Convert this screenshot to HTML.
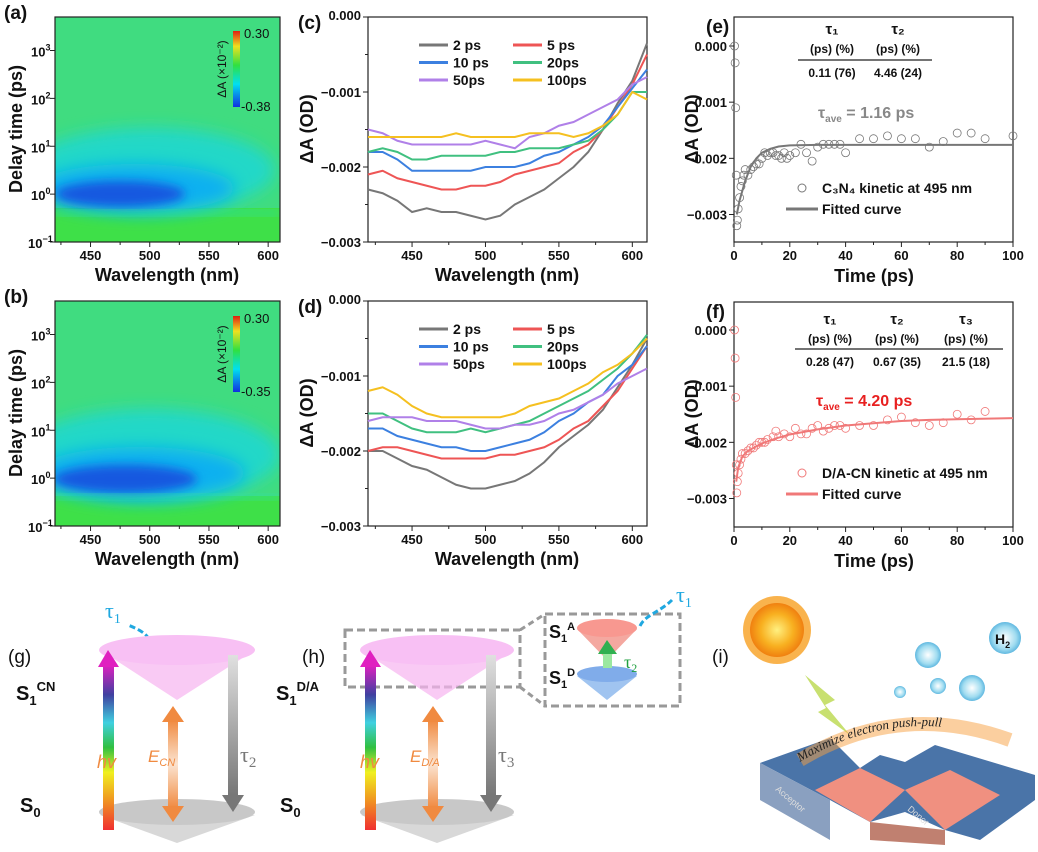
<!DOCTYPE html>
<html><head><meta charset="utf-8">
<style>
html,body{margin:0;padding:0;background:#fff;}
svg{display:block;font-family:"Liberation Sans",sans-serif;}
.tk{font-size:13px;font-weight:bold;fill:#111;}
.tt{font-size:18px;font-weight:bold;fill:#111;}
.pl{font-size:19px;font-weight:bold;fill:#111;}
.lg{font-size:14px;font-weight:bold;fill:#111;}
</style></head>
<body>
<svg id="fig" width="1038" height="852" viewBox="0 0 1038 852" xmlns="http://www.w3.org/2000/svg">
<defs>
<filter id="blur8" x="-50%" y="-50%" width="200%" height="200%"><feGaussianBlur stdDeviation="8"/></filter>
<filter id="blur5" x="-50%" y="-50%" width="200%" height="200%"><feGaussianBlur stdDeviation="5"/></filter>
<clipPath id="clipA"><rect x="55" y="17" width="225" height="225"/></clipPath>
<clipPath id="clipB"><rect x="55" y="301" width="225" height="225"/></clipPath>
<linearGradient id="cbar" x1="0" y1="1" x2="0" y2="0">
<stop offset="0" stop-color="#1030e0"/><stop offset="0.3" stop-color="#00e0f0"/><stop offset="0.55" stop-color="#30e040"/><stop offset="0.8" stop-color="#f0e020"/><stop offset="1" stop-color="#e02010"/></linearGradient>
<linearGradient id="rainbow" x1="0" y1="1" x2="0" y2="0">
<stop offset="0" stop-color="#f03030"/><stop offset="0.2" stop-color="#f0a020"/><stop offset="0.35" stop-color="#f0f020"/><stop offset="0.5" stop-color="#30c040"/><stop offset="0.65" stop-color="#40d0e0"/><stop offset="0.82" stop-color="#4040a0"/><stop offset="1" stop-color="#e020c0"/></linearGradient>
<linearGradient id="orgArr" x1="0" y1="0" x2="0" y2="1"><stop offset="0" stop-color="#f08a40"/><stop offset="0.5" stop-color="#fbe3d0"/><stop offset="1" stop-color="#f08a40"/></linearGradient>
<linearGradient id="grayArr" x1="0" y1="0" x2="0" y2="1"><stop offset="0" stop-color="#e0e0e0"/><stop offset="1" stop-color="#777"/></linearGradient>
<radialGradient id="sunG"><stop offset="0" stop-color="#fff080"/><stop offset="0.6" stop-color="#f8b020"/><stop offset="1" stop-color="#f08010"/></radialGradient>
<radialGradient id="bub"><stop offset="0" stop-color="#ffffff"/><stop offset="0.7" stop-color="#a0dcf0"/><stop offset="1" stop-color="#60b8e0"/></radialGradient>
</defs>

<!-- Heatmap (a) -->
<g clip-path="url(#clipA)">
<rect x="55" y="17" width="225" height="225" fill="#40dc80"/>
<rect x="55" y="208" width="225" height="34" fill="#3ee048"/>
<ellipse cx="150" cy="170" rx="125" ry="42" fill="#20d8c8" filter="url(#blur8)"/>
<ellipse cx="135" cy="188" rx="100" ry="24" fill="#10b0f0" filter="url(#blur8)"/>
<ellipse cx="120" cy="194" rx="65" ry="13" fill="#1858e0" filter="url(#blur5)"/>
<rect x="55" y="211" width="225" height="4" fill="#30e0a0" filter="url(#blur5)"/>
</g>
<rect x="55" y="17" width="225" height="225" fill="none" stroke="#222" stroke-width="1.2"/>
<rect x="233" y="31" width="7" height="76" fill="url(#cbar)"/>
<text x="244" y="38" font-size="13" fill="#111">0.30</text>
<text x="241" y="111" font-size="13" fill="#111">-0.38</text>
<text transform="translate(226,69) rotate(-90)" text-anchor="middle" font-size="12" fill="#111">ΔA (×10⁻²)</text>

<!-- Heatmap (b) -->
<g clip-path="url(#clipB)">
<rect x="55" y="301" width="225" height="225" fill="#40dc80"/>
<rect x="55" y="496" width="225" height="30" fill="#3ee048"/>
<ellipse cx="150" cy="455" rx="130" ry="46" fill="#20d8c8" filter="url(#blur8)"/>
<ellipse cx="140" cy="473" rx="105" ry="26" fill="#10b0f0" filter="url(#blur8)"/>
<ellipse cx="125" cy="479" rx="72" ry="14" fill="#1858e0" filter="url(#blur5)"/>
<rect x="55" y="495" width="225" height="4" fill="#30e0a0" filter="url(#blur5)"/>
</g>
<rect x="55" y="301" width="225" height="225" fill="none" stroke="#222" stroke-width="1.2"/>
<rect x="233" y="316" width="7" height="76" fill="url(#cbar)"/>
<text x="244" y="323" font-size="13" fill="#111">0.30</text>
<text x="241" y="396" font-size="13" fill="#111">-0.35</text>
<text transform="translate(226,354) rotate(-90)" text-anchor="middle" font-size="12" fill="#111">ΔA (×10⁻²)</text>

<g id="charts"></g>

<!-- Tables -->
<g class="lg">
<text x="832" y="34" text-anchor="middle" font-size="15">τ₁</text>
<text x="898" y="34" text-anchor="middle" font-size="15">τ₂</text>
<text x="832" y="53" text-anchor="middle" font-size="12">(ps) (%)</text>
<text x="898" y="53" text-anchor="middle" font-size="12">(ps) (%)</text>
<line x1="798" y1="60" x2="932" y2="60" stroke="#222" stroke-width="1.3"/>
<text x="832" y="77" text-anchor="middle" font-size="12">0.11 (76)</text>
<text x="898" y="77" text-anchor="middle" font-size="12">4.46 (24)</text>
<text x="818" y="118" font-size="16" style="fill:#888">τ<tspan font-size="10" dy="4">ave</tspan><tspan dy="-4"> = 1.16 ps</tspan></text>
</g>
<g class="lg">
<text x="830" y="324" text-anchor="middle" font-size="15">τ₁</text>
<text x="897" y="324" text-anchor="middle" font-size="15">τ₂</text>
<text x="966" y="324" text-anchor="middle" font-size="15">τ₃</text>
<text x="830" y="343" text-anchor="middle" font-size="12">(ps) (%)</text>
<text x="897" y="343" text-anchor="middle" font-size="12">(ps) (%)</text>
<text x="966" y="343" text-anchor="middle" font-size="12">(ps) (%)</text>
<line x1="795" y1="349" x2="1003" y2="349" stroke="#222" stroke-width="1.3"/>
<text x="830" y="366" text-anchor="middle" font-size="12">0.28 (47)</text>
<text x="897" y="366" text-anchor="middle" font-size="12">0.67 (35)</text>
<text x="966" y="366" text-anchor="middle" font-size="12">21.5 (18)</text>
<text x="816" y="406" font-size="16" style="fill:#e82020">τ<tspan font-size="10" dy="4">ave</tspan><tspan dy="-4"> = 4.20 ps</tspan></text>
</g>

<!-- (g) diagram -->
<g>
<text x="8" y="663" font-size="19" fill="#111">(g)</text>
<text x="105" y="618" font-size="22" fill="#20a8e0" font-family="Liberation Serif,serif">τ<tspan font-size="14" dy="5">1</tspan></text>
<path d="M150,648 C152,635 140,630 128,625" fill="none" stroke="#20a8e0" stroke-width="3" stroke-dasharray="6,3"/>
<path d="M100,650 L177,700 L255,650 Z" fill="#f6b4f0" opacity="0.7"/>
<ellipse cx="177" cy="650" rx="78" ry="15" fill="#f8c0f4"/>
<path d="M100,815 L177,843 L255,815 Z" fill="#d8d8d8"/>
<ellipse cx="177" cy="812" rx="78" ry="13" fill="#c8c8c8"/>
<rect x="103" y="665" width="11" height="165" fill="url(#rainbow)"/>
<polygon points="98,667 108,650 119,667" fill="#e020c0"/>
<rect x="168" y="720" width="10" height="88" fill="url(#orgArr)"/>
<polygon points="162,722 173,706 184,722" fill="#f08a40"/>
<polygon points="162,806 173,822 184,806" fill="#f08a40"/>
<rect x="228" y="655" width="10" height="140" fill="url(#grayArr)"/>
<polygon points="222,795 233,812 244,795" fill="#777"/>
<text x="16" y="700" font-size="20" font-weight="bold" fill="#111">S<tspan font-size="13" dy="5">1</tspan><tspan font-size="13" dy="-14">CN</tspan></text>
<text x="20" y="812" font-size="20" font-weight="bold" fill="#111">S<tspan font-size="13" dy="5">0</tspan></text>
<text x="97" y="768" font-size="18" font-style="italic" fill="#f08a40">hv</text>
<text x="148" y="762" font-size="17" font-style="italic" fill="#f08a40">E<tspan font-size="11" dy="4">CN</tspan></text>
<text x="240" y="762" font-size="22" fill="#777" font-family="Liberation Serif,serif">τ<tspan font-size="15" dy="5">2</tspan></text>
</g>

<!-- (h) diagram -->
<g>
<text x="302" y="663" font-size="19" fill="#111">(h)</text>
<rect x="345" y="630" width="175" height="57" fill="none" stroke="#999" stroke-width="3" stroke-dasharray="8,4"/>
<rect x="545" y="614" width="135" height="92" fill="none" stroke="#999" stroke-width="3" stroke-dasharray="8,4"/>
<line x1="520" y1="630" x2="545" y2="614" stroke="#999" stroke-width="3" stroke-dasharray="6,4"/>
<line x1="520" y1="687" x2="545" y2="706" stroke="#999" stroke-width="3" stroke-dasharray="6,4"/>
<path d="M361,650 L437,700 L514,650 Z" fill="#f6b4f0" opacity="0.7"/>
<ellipse cx="437" cy="650" rx="77" ry="15" fill="#f8c0f4"/>
<path d="M361,815 L437,843 L514,815 Z" fill="#d8d8d8"/>
<ellipse cx="437" cy="812" rx="77" ry="13" fill="#c8c8c8"/>
<rect x="365" y="665" width="11" height="165" fill="url(#rainbow)"/>
<polygon points="360,667 370,650 381,667" fill="#e020c0"/>
<rect x="428" y="720" width="10" height="88" fill="url(#orgArr)"/>
<polygon points="422,722 433,706 444,722" fill="#f08a40"/>
<polygon points="422,806 433,822 444,806" fill="#f08a40"/>
<rect x="486" y="655" width="10" height="140" fill="url(#grayArr)"/>
<polygon points="480,795 491,812 502,795" fill="#777"/>
<text x="276" y="700" font-size="20" font-weight="bold" fill="#111">S<tspan font-size="13" dy="5">1</tspan><tspan font-size="13" dy="-14">D/A</tspan></text>
<text x="280" y="812" font-size="20" font-weight="bold" fill="#111">S<tspan font-size="13" dy="5">0</tspan></text>
<text x="360" y="768" font-size="18" font-style="italic" fill="#f08a40">hv</text>
<text x="410" y="762" font-size="17" font-style="italic" fill="#f08a40">E<tspan font-size="11" dy="4">D/A</tspan></text>
<text x="498" y="762" font-size="22" fill="#777" font-family="Liberation Serif,serif">τ<tspan font-size="15" dy="5">3</tspan></text>
<path d="M577,629 L607,660 L637,629 Z" fill="#f4a8a0"/>
<ellipse cx="607" cy="628" rx="30" ry="9" fill="#f89890"/>
<path d="M577,676 L607,700 L637,676 Z" fill="#a0c4f0"/>
<ellipse cx="607" cy="674" rx="30" ry="8" fill="#80acea"/>
<rect x="603" y="652" width="9" height="16" fill="#9be8a0"/>
<polygon points="598,654 607,640 617,654" fill="#30b050"/>
<text x="624" y="668" font-size="18" fill="#20a040" font-family="Liberation Serif,serif">τ<tspan font-size="12" dy="4">2</tspan></text>
<text x="549" y="638" font-size="18" font-weight="bold" fill="#111">S<tspan font-size="11" dy="4">1</tspan><tspan font-size="11" dy="-12">A</tspan></text>
<text x="549" y="684" font-size="18" font-weight="bold" fill="#111">S<tspan font-size="11" dy="4">1</tspan><tspan font-size="11" dy="-12">D</tspan></text>
<path d="M640,626 C645,615 660,612 672,600" fill="none" stroke="#20a8e0" stroke-width="3" stroke-dasharray="6,3"/>
<text x="676" y="602" font-size="22" fill="#20a8e0" font-family="Liberation Serif,serif">τ<tspan font-size="14" dy="5">1</tspan></text>
</g>

<!-- (i) illustration -->
<g>
<text x="712" y="663" font-size="19" fill="#111">(i)</text>
<circle cx="777" cy="630" r="34" fill="#f8a020" opacity="0.8"/>
<circle cx="777" cy="630" r="27" fill="url(#sunG)"/>
<polygon points="805,675 835,700 825,705 850,735 818,712 826,708" fill="#c8e070"/>
<circle cx="1005" cy="638" r="16" fill="url(#bub)"/>
<text x="995" y="644" font-size="14" font-weight="bold" fill="#111">H<tspan font-size="9" dy="4">2</tspan></text>
<circle cx="928" cy="655" r="13" fill="url(#bub)"/>
<circle cx="972" cy="688" r="13" fill="url(#bub)"/>
<circle cx="938" cy="686" r="8" fill="url(#bub)"/>
<circle cx="900" cy="692" r="6" fill="url(#bub)"/>
<polygon points="760,763 830,738 860,768 880,755 905,762 935,745 1035,775 1035,800 980,840 945,830 905,812 870,822 830,800" fill="#4a74a8"/>
<polygon points="815,790 860,768 905,790 870,822" fill="#f09080"/>
<polygon points="905,790 950,770 1000,795 945,830" fill="#f09080"/>
<polygon points="760,763 830,800 830,840 760,800" fill="#8aa0c0"/>
<polygon points="870,822 945,830 945,845 870,840" fill="#c08070"/>
<path d="M800,760 Q900,700 1010,740" fill="none" stroke="#f8a040" stroke-width="14" opacity="0.5"/>
<path id="arc" d="M800,762 Q900,702 1010,742" fill="none"/>
<text font-size="13" font-style="italic" fill="#222" font-family="Liberation Serif,serif"><textPath href="#arc">Maximize electron push-pull</textPath></text>
<text transform="translate(775,790) rotate(40)" font-size="9" fill="#ddd">Acceptor</text>
<text transform="translate(907,810) rotate(40)" font-size="9" fill="#ddd">Donor</text>
</g>
</svg>

<script>
// ----- data -----
const wl = [420,430,440,450,460,470,480,490,500,510,520,530,540,550,560,570,580,590,600,610];
const seriesNames = ['2 ps','5 ps','10 ps','20ps','50ps','100ps'];
const seriesColors = ['#777777','#ee5555','#3c80e0','#40c080','#b080e8','#f5c020'];
const c2 = [-2.3,-2.35,-2.45,-2.6,-2.55,-2.6,-2.6,-2.65,-2.7,-2.65,-2.5,-2.4,-2.3,-2.15,-2.0,-1.8,-1.5,-1.15,-0.85,-0.35];
const c5 = [-2.1,-2.05,-2.15,-2.2,-2.25,-2.3,-2.3,-2.25,-2.25,-2.2,-2.1,-2.05,-2.0,-1.95,-1.8,-1.7,-1.5,-1.2,-0.9,-0.5];
const c10 = [-1.8,-1.8,-1.9,-2.05,-2.05,-2.05,-2.05,-2.05,-2.0,-2.0,-2.0,-1.95,-1.85,-1.8,-1.7,-1.6,-1.45,-1.2,-0.95,-0.7];
const c20 = [-1.8,-1.75,-1.8,-1.9,-1.9,-1.85,-1.85,-1.85,-1.85,-1.8,-1.8,-1.75,-1.75,-1.75,-1.7,-1.65,-1.5,-1.3,-1.0,-1.0];
const c50 = [-1.5,-1.55,-1.65,-1.7,-1.7,-1.7,-1.7,-1.7,-1.65,-1.7,-1.75,-1.6,-1.55,-1.45,-1.4,-1.3,-1.2,-1.1,-0.9,-0.8];
const c100 = [-1.6,-1.6,-1.6,-1.6,-1.6,-1.6,-1.55,-1.6,-1.6,-1.6,-1.6,-1.55,-1.55,-1.55,-1.6,-1.55,-1.45,-1.3,-1.0,-1.1];
const d2 = [-2.0,-2.0,-2.1,-2.2,-2.25,-2.35,-2.45,-2.5,-2.5,-2.45,-2.4,-2.3,-2.15,-1.95,-1.8,-1.65,-1.45,-1.15,-0.85,-0.5];
const d5 = [-2.0,-1.95,-1.95,-2.0,-2.05,-2.1,-2.1,-2.1,-2.1,-2.05,-2.05,-2.0,-1.95,-1.85,-1.7,-1.6,-1.4,-1.2,-0.9,-0.6];
const d10 = [-1.7,-1.7,-1.8,-1.85,-1.9,-1.95,-1.95,-2.0,-2.0,-1.95,-1.9,-1.85,-1.75,-1.6,-1.5,-1.35,-1.25,-1.0,-0.85,-0.6];
const d20 = [-1.5,-1.5,-1.6,-1.7,-1.75,-1.75,-1.75,-1.7,-1.75,-1.7,-1.65,-1.6,-1.5,-1.4,-1.3,-1.2,-1.05,-0.9,-0.7,-0.45];
const d50 = [-1.6,-1.55,-1.55,-1.55,-1.6,-1.6,-1.6,-1.65,-1.7,-1.7,-1.65,-1.65,-1.6,-1.5,-1.45,-1.35,-1.25,-1.1,-1.0,-0.9];
const d100 = [-1.2,-1.15,-1.25,-1.4,-1.5,-1.55,-1.55,-1.55,-1.55,-1.55,-1.5,-1.4,-1.35,-1.3,-1.2,-1.1,-0.95,-0.85,-0.7,-0.5];
const eT = [0.2,0.4,0.6,0.8,1,1.2,1.5,2,2.5,3,3.5,4,5,6,7,8,9,10,11,12,13,14,15,16,17,18,19,20,22,24,26,28,30,32,34,36,38,40,45,50,55,60,65,70,75,80,85,90,100];
const eV = [0.0,-0.3,-1.1,-2.3,-3.2,-3.1,-2.9,-2.7,-2.5,-2.4,-2.3,-2.2,-2.3,-2.2,-2.15,-2.1,-2.1,-2.0,-1.9,-1.95,-1.9,-1.9,-1.95,-1.95,-2.0,-1.9,-2.0,-1.95,-1.9,-1.75,-1.9,-2.05,-1.8,-1.75,-1.75,-1.75,-1.75,-1.9,-1.65,-1.65,-1.6,-1.65,-1.65,-1.8,-1.7,-1.55,-1.55,-1.65,-1.6];
const eFitT = [1,2,4,6,8,10,13,16,20,30,100];
const eFitV = [-3.0,-2.75,-2.4,-2.15,-2.0,-1.9,-1.83,-1.79,-1.77,-1.76,-1.76];
const fT = [0.2,0.4,0.6,0.8,1,1.2,1.5,2,2.5,3,4,5,6,7,8,9,10,11,12,14,15,16,18,20,22,24,26,28,30,32,34,36,38,40,45,50,55,60,65,70,75,80,85,90];
const fV = [0,-0.5,-1.2,-2.4,-2.9,-2.7,-2.55,-2.4,-2.3,-2.2,-2.2,-2.15,-2.1,-2.1,-2.05,-2.0,-2.0,-2.0,-1.95,-1.9,-1.8,-1.9,-1.85,-1.9,-1.75,-1.85,-1.85,-1.75,-1.7,-1.8,-1.75,-1.7,-1.7,-1.75,-1.7,-1.7,-1.6,-1.55,-1.65,-1.7,-1.65,-1.5,-1.6,-1.45];
const fFitT = [0.8,1.5,3,5,10,15,20,30,40,50,60,70,80,100];
const fFitV = [-2.7,-2.45,-2.25,-2.15,-2.02,-1.93,-1.86,-1.77,-1.7,-1.66,-1.62,-1.6,-1.59,-1.57];
const wlTicks = [450,500,550,600];
const odTicks = [0,-1,-2,-3];
const odTickLabels = ['0.000','\u22120.001','\u22120.002','\u22120.003'];
const tTicks = [0,20,40,60,80,100];
const logTicks = [-1,0,1,2,3];

const NS='http://www.w3.org/2000/svg';
const root=document.getElementById('charts');
function mk(tag,attrs,parent){const e=document.createElementNS(NS,tag);for(const k in attrs)e.setAttribute(k,attrs[k]);(parent||root).appendChild(e);return e;}
function txt(x,y,s,cls,anchor,parent){const t=mk('text',{x:x,y:y,class:cls,'text-anchor':anchor||'start'},parent);t.textContent=s;return t;}

function frame(x0,y0,w,h,name){
  const r=mk('rect',{x:x0,y:y0,width:w,height:h,fill:'none',stroke:'#222','stroke-width':1.2});
  
  
}
function linAxis(d0,d1,p0,p1){return v=>p0+(v-d0)/(d1-d0)*(p1-p0);}

function heatAxes(top,label){
  const x=linAxis(420,610,55,280), y=linAxis(-1,3.7,top+225,top);
  wlTicks.forEach(v=>{mk('line',{x1:x(v),y1:top+225,x2:x(v),y2:top+230,stroke:'#222'});txt(x(v),top+243,String(v),'tk','middle');});
  [425,475,525,575].forEach(v=>mk('line',{x1:x(v),y1:top+225,x2:x(v),y2:top+228,stroke:'#222'}));
  logTicks.forEach(v=>{mk('line',{x1:50,y1:y(v),x2:55,y2:y(v),stroke:'#222'});
    const t=mk('text',{x:v<0?28:31,y:y(v)+6,class:'tk'});t.textContent='10';
    const s=mk('tspan',{dy:-6,'font-size':9},t);s.textContent=v<0?'\u22121':String(v);});
  const xl=txt(167,top+264,'Wavelength (nm)','tt','middle');
  const yl=mk('text',{transform:`translate(22,${top+112}) rotate(-90)`,class:'tt','text-anchor':'middle'});yl.textContent='Delay time (ps)';
  
  txt(4,top+2,label,'pl');
}
heatAxes(17,'(a)');heatAxes(301,'(b)');

function specPanel(top,label,data,legY){
  const x=linAxis(420,610,368,647), y=linAxis(0,-3,top,top+225);
  frame(368,top,279,225,'spectra-frame-'+label);
  wlTicks.forEach(v=>{mk('line',{x1:x(v),y1:top+225,x2:x(v),y2:top+230,stroke:'#222'});txt(x(v),top+243,String(v),'tk','middle');});
  [425,475,525,575].forEach(v=>mk('line',{x1:x(v),y1:top+225,x2:x(v),y2:top+228,stroke:'#222'}));
  odTicks.forEach((v,i)=>{mk('line',{x1:363,y1:y(v),x2:368,y2:y(v),stroke:'#222'});txt(361,y(v)+(v===0?3:5),odTickLabels[i],'tk','end');});
  [-0.5,-1.5,-2.5].forEach(v=>mk('line',{x1:365,y1:y(v),x2:368,y2:y(v),stroke:'#222'}));
  txt(507,top+264,'Wavelength (nm)','tt','middle');
  const yl=mk('text',{transform:`translate(313,${top+112}) rotate(-90)`,class:'tt','text-anchor':'middle'});yl.textContent='\u0394A (OD)';
  
  txt(298,top+12,label,'pl');
  data.forEach((arr,i)=>{
    const p=mk('polyline',{points:arr.map((v,j)=>x(wl[j])+','+y(v)).join(' '),fill:'none',stroke:seriesColors[i],'stroke-width':2});
    
    
    const col=i%2, row=Math.floor(i/2);
    const lx=col?513:419, ly=legY+row*17.5;
    const l=mk('line',{x1:lx,y1:ly,x2:lx+29,y2:ly,stroke:seriesColors[i],'stroke-width':3});
    
    
    txt(lx+34,ly+5,seriesNames[i],'lg');
  });
}
specPanel(17,'(c)',[c2,c5,c10,c20,c50,c100],45);
specPanel(301,'(d)',[d2,d5,d10,d20,d50,d100],329);

function kinPanel(top,label,zeroY,pT,pV,fT2,fV2,color,legText){
  const x=linAxis(0,100,734,1013), y=linAxis(0,-3,zeroY,zeroY+168.5);
  frame(734,top,279,225,'kinetics-frame-'+label);
  tTicks.forEach(v=>{mk('line',{x1:x(v),y1:top+225,x2:x(v),y2:top+230,stroke:'#222'});txt(x(v),top+243,String(v),'tk','middle');});
  [10,30,50,70,90].forEach(v=>mk('line',{x1:x(v),y1:top+225,x2:x(v),y2:top+228,stroke:'#222'}));
  odTicks.forEach((v,i)=>{mk('line',{x1:729,y1:y(v),x2:734,y2:y(v),stroke:'#222'});txt(727,y(v)+5,odTickLabels[i],'tk','end');});
  txt(874,top+265,'Time (ps)','tt','middle');
  const yl=mk('text',{transform:`translate(698,${top+112}) rotate(-90)`,class:'tt','text-anchor':'middle'});yl.textContent='\u0394A (OD)';
  
  txt(706,top+16,label,'pl');
  pT.forEach((t,i)=>{const c=mk('circle',{cx:x(t),cy:y(pV[i]),r:4,fill:'none',stroke:color,'stroke-width':0.8});
    });
  const fl=mk('polyline',{points:fT2.map((t,j)=>x(t)+','+y(fV2[j])).join(' '),fill:'none',stroke:color,'stroke-width':2});
  
  const ly=top+171;
  mk('circle',{cx:802,cy:ly,r:4,fill:'none',stroke:color});
  txt(822,ly+5,legText,'lg');
  mk('line',{x1:786,y1:ly+21,x2:818,y2:ly+21,stroke:color,'stroke-width':3});
  txt(822,ly+26,'Fitted curve','lg');
}
kinPanel(17,'(e)',46,eT,eV,eFitT,eFitV,'#777','C\u2083N\u2084 kinetic at 495 nm');
kinPanel(302,'(f)',330,fT,fV,fFitT,fFitV,'#f07878','D/A-CN kinetic at 495 nm');
</script>
</body></html>
